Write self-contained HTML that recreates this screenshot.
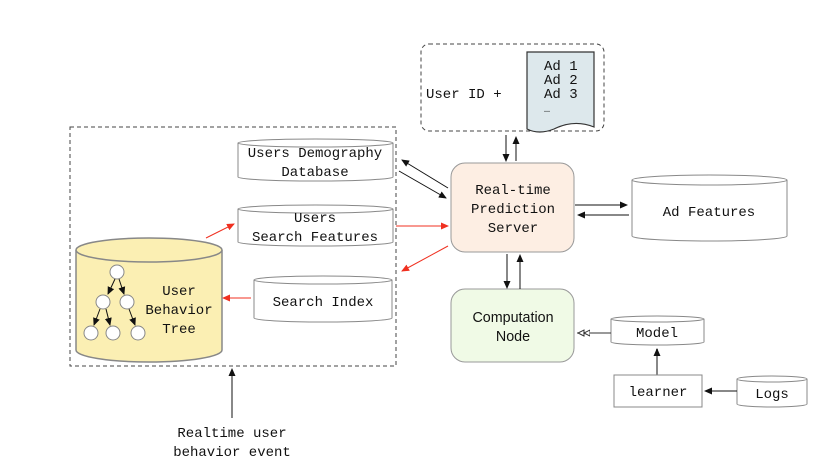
<!DOCTYPE html>
<html><head><meta charset="utf-8"><style>
body{margin:0;background:#fff;}
text{font-family:"Liberation Mono",monospace;font-size:14px;fill:#111;}
.s{font-family:"Liberation Sans",sans-serif;font-size:14.3px;}
</style></head><body>
<svg width="821" height="471" viewBox="0 0 821 471" xmlns="http://www.w3.org/2000/svg">
<defs>
<marker id="ab" markerWidth="8" markerHeight="8" refX="7" refY="4" orient="auto" markerUnits="userSpaceOnUse"><path d="M0,0.5 L8,4 L0,7.5z" fill="#111"/></marker>
<marker id="ar" markerWidth="8" markerHeight="8" refX="7" refY="4" orient="auto" markerUnits="userSpaceOnUse"><path d="M0,0.5 L8,4 L0,7.5z" fill="#f03020"/></marker>
<marker id="ah" markerWidth="14" markerHeight="8" refX="13" refY="4" orient="auto" markerUnits="userSpaceOnUse"><path d="M0,1 L6,4 L0,7z M6,1 L12,4 L6,7z" fill="#fff" stroke="#333"/></marker>
</defs>
<g fill="none" stroke="#444" stroke-width="1">
<rect x="70" y="127" width="326" height="239" stroke-dasharray="4,3"/>
<rect x="421" y="44" width="183" height="87" rx="8" stroke-dasharray="4,3"/>
</g>
<g stroke="#888" fill="#fff">
<path d="M238,143 v34 a77.5,4 0 0 0 155,0 v-34"/><ellipse cx="315.5" cy="143" rx="77.5" ry="4"/>
<path d="M238,209 v33 a77.5,4 0 0 0 155,0 v-33"/><ellipse cx="315.5" cy="209" rx="77.5" ry="4"/>
<path d="M254,280 v38 a69,4 0 0 0 138,0 v-38"/><ellipse cx="323" cy="280" rx="69" ry="4"/>
<path d="M632,180 v56 a77.5,5 0 0 0 155,0 v-56"/><ellipse cx="709.5" cy="180" rx="77.5" ry="5"/>
<path d="M611,319 v23 a46.5,3 0 0 0 93,0 v-23"/><ellipse cx="657.5" cy="319" rx="46.5" ry="3"/>
<path d="M737,379 v25 a35,3 0 0 0 70,0 v-25"/><ellipse cx="772" cy="379" rx="35" ry="3"/>
</g>
<path d="M76,250 v100 a73,12 0 0 0 146,0 v-100" fill="#fbefb3" stroke="#888" stroke-width="1.5"/>
<ellipse cx="149" cy="250" rx="73" ry="12" fill="#fbefb3" stroke="#888" stroke-width="1.5"/>
<g stroke="#111" marker-end="url(#ab)">
<line x1="115" y1="279" x2="108" y2="294"/><line x1="119" y1="279" x2="124" y2="294"/>
<line x1="100" y1="309" x2="94" y2="325"/><line x1="106" y1="309" x2="110" y2="325"/><line x1="129" y1="309" x2="135" y2="325"/>
</g>
<g fill="#fff" stroke="#888">
<circle cx="117" cy="272" r="7"/><circle cx="103" cy="302" r="7"/><circle cx="127" cy="302" r="7"/>
<circle cx="91" cy="333" r="7"/><circle cx="113" cy="333" r="7"/><circle cx="138" cy="333" r="7"/>
</g>
<path d="M527,52 h67 v75 q-20,-8 -40,2 q-15,6 -27,0z" fill="#dde8ec" stroke="#333" stroke-width="1.2"/>
<rect x="451" y="163" width="123" height="89" rx="14" fill="#fdeee3" stroke="#999"/>
<rect x="451" y="289" width="123" height="73" rx="14" fill="#f0fae6" stroke="#999"/>
<rect x="614" y="375" width="88" height="32" fill="#fff" stroke="#888"/>
<g stroke="#111" fill="none" marker-end="url(#ab)">
<line x1="448" y1="188" x2="402" y2="160"/><line x1="399" y1="171" x2="446" y2="198"/>
<line x1="506" y1="135" x2="506" y2="161"/><line x1="516" y1="161" x2="516" y2="137"/>
<line x1="575" y1="205" x2="627" y2="205"/><line x1="629" y1="215" x2="578" y2="215"/>
<line x1="507" y1="254" x2="507" y2="288"/><line x1="520" y1="289" x2="520" y2="255"/>
<line x1="737" y1="391" x2="705" y2="391"/><line x1="232" y1="418" x2="232" y2="369"/>
</g>
<line x1="657" y1="375" x2="657" y2="349" stroke="#888" stroke-width="2" marker-end="url(#ab)"/>
<line x1="611" y1="333" x2="577" y2="333" stroke="#333" marker-end="url(#ah)"/>
<g stroke="#f03020" marker-end="url(#ar)">
<line x1="206" y1="238" x2="234" y2="224"/><line x1="396" y1="226" x2="448" y2="226"/>
<line x1="448" y1="246" x2="402" y2="271"/><line x1="251" y1="298" x2="223" y2="298"/>
</g>
<g text-anchor="middle">
<text x="315" y="157">Users Demography</text><text x="315" y="176">Database</text>
<text x="315" y="222">Users</text><text x="315" y="241">Search Features</text>
<text x="323" y="306">Search Index</text>
<text x="179" y="295">User</text><text x="179" y="314">Behavior</text><text x="179" y="333">Tree</text>
<text x="513" y="194">Real-time</text><text x="513" y="213">Prediction</text><text x="513" y="232">Server</text>
<text class="s" x="513" y="322">Computation</text><text class="s" x="513" y="341">Node</text>
<text x="709" y="216">Ad Features</text>
<text x="657" y="337">Model</text>
<text x="658" y="396">learner</text>
<text x="772" y="398">Logs</text>
<text x="232" y="437">Realtime user</text><text x="232" y="456">behavior event</text>
</g>
<text x="426" y="98">User ID +</text>
<text x="544" y="70">Ad 1</text><text x="544" y="84">Ad 2</text><text x="544" y="98">Ad 3</text><text x="544" y="112" style="font-size:10px">…</text>
</svg>
</body></html>
